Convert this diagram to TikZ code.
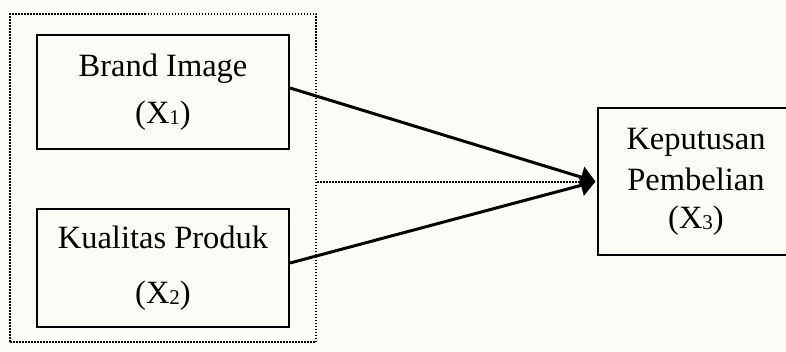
\documentclass[tikz,border=0pt]{standalone}
\usepackage{fontspec}
\setmainfont{Liberation Serif}
\usetikzlibrary{arrows.meta,calc}

\definecolor{paper}{RGB}{252,252,246}

\tikzset{
  every picture/.style={x=1pt,y=-1pt},
  varbox/.style={draw=black,line width=2pt,inner sep=0pt,
    font=\fontsize{32.5}{39}\selectfont,align=center},
  groupbox/.style={draw=black,line width=2pt,dash pattern=on 1.5pt off 1.5pt,inner sep=0pt},
  path/.style={line width=3pt,-{Triangle[length=15pt,width=21pt]}},
  joint/.style={line width=2pt,dash pattern=on 1.5pt off 1.5pt},
}
% variable label with a small, slightly lowered index
\newcommand{\var}[1]{(X\raisebox{-1.5pt}{\fontsize{21}{21}\selectfont #1})}

\begin{document}
\begin{tikzpicture}
  \useasboundingbox (0,0) rectangle (786,351);
  \clip (0,0) rectangle (786,351);
  \fill[paper] (0,0) rectangle (786,351);

  % dotted frame around the two independent variables
  \node[groupbox,minimum width=306pt,minimum height=328pt] (grp) at (163,178) {};

  % variable boxes
  \node[varbox,minimum width=252pt,minimum height=114pt] (b1) at (163,92)
    {Brand Image\\[8pt]\var{1}};
  \node[varbox,minimum width=252pt,minimum height=118pt] (b2) at (163,268)
    {Kualitas Produk\\[16pt]\var{2}};
  \node[varbox,minimum width=196pt,minimum height=147pt,anchor=west] (b3) at (597,181.5)
    {Keputusan\\[2pt]Pembelian\\[-1pt]\var{3}};

  \coordinate (tip) at ($(b3.west)+(-1.5,0)$);
  \coordinate (jstart) at (grp.east |- tip);

  % joint influence (dotted) and partial influences
  \draw[joint] (jstart) -- (tip);
  \draw[path] ($(b1.east)+(0,-4)$) -- (tip);
  \draw[path] ($(b2.east)+(0,-5)$) -- (tip);
\end{tikzpicture}
\end{document}
